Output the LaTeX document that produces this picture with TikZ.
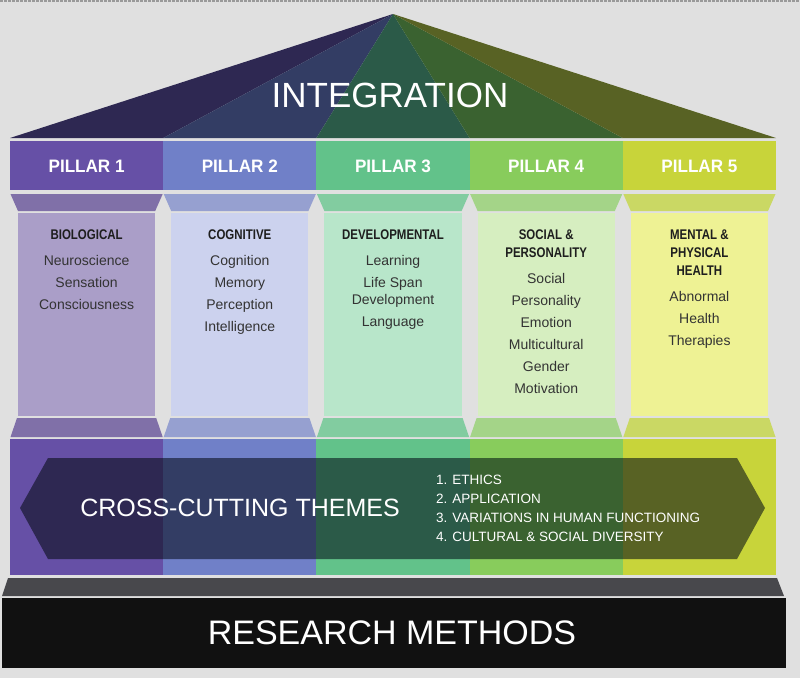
\documentclass[tikz,border=0pt]{standalone}
\usepackage{fontspec}
\setmainfont{Liberation Sans}
\newfontfamily\condfont[FakeStretch=0.82]{Liberation Sans}
\newfontfamily\pillarfont[FakeStretch=0.95]{Liberation Sans}
\usetikzlibrary{positioning}

\definecolor{bg}{HTML}{E0E0E0}
\definecolor{topedge}{HTML}{9A9A9A}
\definecolor{slab}{HTML}{48484C}
\definecolor{basecol}{HTML}{111111}
\definecolor{headtext}{HTML}{1E1E1E}
\definecolor{itemtext}{HTML}{333333}
\definecolor{band1}{HTML}{6650A6}
\definecolor{band2}{HTML}{7080C8}
\definecolor{band3}{HTML}{62C28A}
\definecolor{band4}{HTML}{88CC5C}
\definecolor{band5}{HTML}{C8D43A}
\definecolor{cap1}{HTML}{8070A8}
\definecolor{cap2}{HTML}{96A0D0}
\definecolor{cap3}{HTML}{82CCA0}
\definecolor{cap4}{HTML}{A4D488}
\definecolor{cap5}{HTML}{CAD864}
\definecolor{shaft1}{HTML}{AA9EC8}
\definecolor{shaft2}{HTML}{CCD2EE}
\definecolor{shaft3}{HTML}{B8E6CA}
\definecolor{shaft4}{HTML}{D6EEC0}
\definecolor{shaft5}{HTML}{EEF294}
\definecolor{dark1}{HTML}{2E2852}
\definecolor{dark2}{HTML}{333D64}
\definecolor{dark3}{HTML}{2B5A48}
\definecolor{dark4}{HTML}{3A6230}
\definecolor{dark5}{HTML}{586224}

\begin{document}
\begin{tikzpicture}[x=1pt, y=-1pt,
  pillarlbl/.style={text=white, inner sep=0pt, font=\pillarfont\bfseries\fontsize{18}{18}\selectfont},
  colhead/.style={anchor=north, align=center, inner sep=0pt, text=headtext, font=\condfont\bfseries\fontsize{14}{18}\selectfont},
  colitems/.style={anchor=north, align=center, inner sep=0pt, text=itemtext, font=\fontsize{14}{22}\selectfont},
  themelist/.style={anchor=west, align=left, inner sep=0pt, text=white, font=\fontsize{13.5}{19}\selectfont},
  bigtitle/.style={text=white, inner sep=0pt}]
  \fill[bg] (0,0) rectangle (800,678);
  \useasboundingbox (0,0) rectangle (800,678);
  \draw[topedge, line width=2pt, dash pattern=on 3pt off 1pt] (0,1) -- (800,1);

  % roof
  \foreach \i in {1,...,5} {
    \pgfmathsetmacro\lx{10+153.2*(\i-1)}
    \pgfmathsetmacro\rx{\lx+153.2}
    \fill[dark\i] (393,14) -- (\lx,138) -- (\rx,138) -- cycle;
  }
  \node[bigtitle, font=\fontsize{35}{35}\selectfont] (integ) at (390,95) {INTEGRATION};

  % pillars
  \foreach \i in {1,...,5} {
    \pgfmathsetmacro\lx{10+153.2*(\i-1)}
    \pgfmathsetmacro\rx{\lx+153.2}
    \pgfmathsetmacro\cx{\lx+76.6}
    \fill[band\i] (\lx,141) rectangle (\rx,190);
    \fill[cap\i] (\lx+0.5,194) -- (\rx-0.5,194) -- (\rx-8,211) -- (\lx+8,211) -- cycle;
    \fill[shaft\i] (\lx+8,213) rectangle (\rx-8,416);
    \fill[cap\i] (\lx+7,418) -- (\rx-7,418) -- (\rx-0.5,437) -- (\lx+0.5,437) -- cycle;
    \fill[band\i] (\lx,439) rectangle (\rx,575);
    \node[pillarlbl] (pl\i) at (\cx,166) {PILLAR \i};
  }

  \node[colhead] (hd1) at (86.6,230) {BIOLOGICAL};
  \node[colitems, below=15pt of hd1] (it1) {Neuroscience\\Sensation\\Consciousness};
  \node[colhead] (hd2) at (239.8,230) {COGNITIVE};
  \node[colitems, below=15pt of hd2] (it2) {Cognition\\Memory\\Perception\\Intelligence};
  \node[colhead] (hd3) at (393,230) {DEVELOPMENTAL};
  \node[colitems, below=15pt of hd3] (it3) {Learning\\Life Span\\[-5pt]Development\\Language};
  \node[colhead] (hd4) at (546.2,230) {SOCIAL \&\\PERSONALITY};
  \node[colitems, below=15pt of hd4] (it4) {Social\\Personality\\Emotion\\Multicultural\\Gender\\Motivation};
  \node[colhead] (hd5) at (699.4,230) {MENTAL \&\\PHYSICAL\\HEALTH};
  \node[colitems, below=15pt of hd5] (it5) {Abnormal\\Health\\Therapies};

  % cross-cutting arrow
  \begin{scope}
    \clip (20,508) -- (48,458) -- (737,458) -- (765,508) -- (737,559) -- (48,559) -- cycle;
    \foreach \i in {1,...,5} {
      \pgfmathsetmacro\lx{10+153.2*(\i-1)}
      \pgfmathsetmacro\rx{\lx+153.2}
      \fill[dark\i] (\lx,439) rectangle (\rx,575);
    }
  \end{scope}
  \node[bigtitle, font=\fontsize{25}{25}\selectfont] (cct) at (240,508) {CROSS-CUTTING THEMES};
  \node[themelist] (themes) at (436,508) {1. ETHICS\\2. APPLICATION\\3. VARIATIONS IN HUMAN FUNCTIONING\\4. CULTURAL \& SOCIAL DIVERSITY};

  % foundation
  \fill[slab] (8,578) -- (777,578) -- (784,596) -- (2,596) -- cycle;
  \fill[basecol] (2,598) rectangle (786,668);
  \node[bigtitle, font=\fontsize{34}{34}\selectfont] (rm) at (392,633) {RESEARCH METHODS};
\end{tikzpicture}
\end{document}
